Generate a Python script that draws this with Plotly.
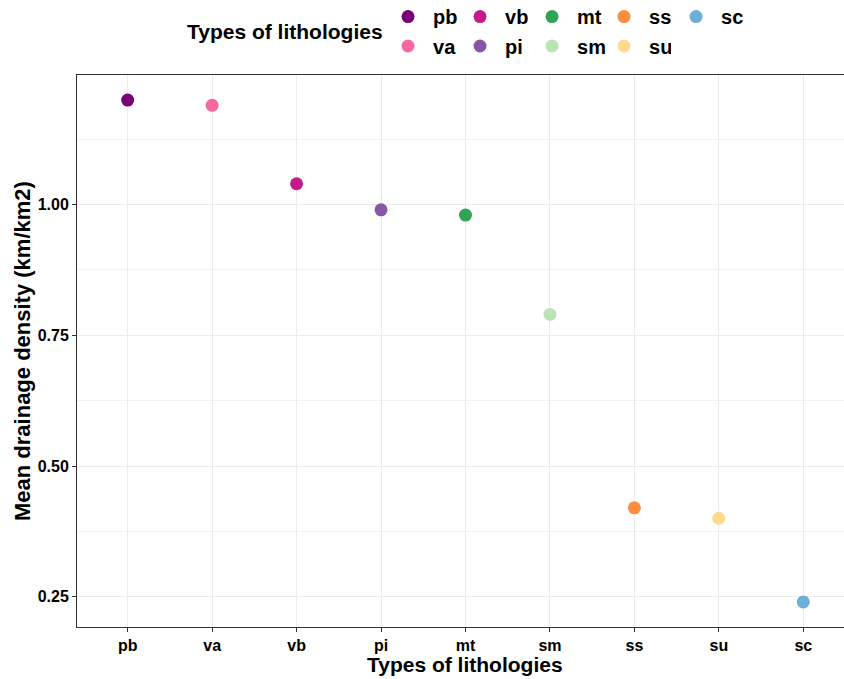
import plotly.graph_objects as go

lithologies = ["pb", "va", "vb", "pi", "mt", "sm", "ss", "su", "sc"]
mean_density = [1.20, 1.19, 1.04, 0.99, 0.98, 0.79, 0.42, 0.40, 0.24]
colors = ["#7A0177", "#F768A1", "#C51B8A", "#8856A7", "#31A354",
          "#BAE4B3", "#FD8D3C", "#FED98E", "#6BAED6"]
# legend is filled column-wise in the reference: row 1 / row 2
legend_row = ["legend", "legend2", "legend", "legend2", "legend",
              "legend2", "legend", "legend2", "legend"]
y_ticks = [0.25, 0.50, 0.75, 1.00]
y_minor = [0.375, 0.625, 0.875, 1.125]

FONT = "Liberation Sans, Arial, sans-serif"

fig = go.Figure()
for i, (name, val, col) in enumerate(zip(lithologies, mean_density, colors)):
    fig.add_trace(go.Scatter(
        x=[i], y=[val], mode="markers", name=name,
        marker=dict(color=col, size=13, line=dict(width=0)),
        legend=legend_row[i],
    ))

leg_common = dict(
    orientation="h", xanchor="left", yanchor="middle",
    font=dict(size=20, family=FONT, color="black", weight="bold"),
    entrywidth=17, itemwidth=40, traceorder="normal",
    bgcolor="rgba(0,0,0,0)", borderwidth=0,
)

fig.update_layout(
    width=844, height=679,
    margin=dict(l=77, r=0, t=75, b=52, autoexpand=False),
    paper_bgcolor="white", plot_bgcolor="white",
    font=dict(family=FONT, color="black", size=16, weight="bold"),
    showlegend=True,
    legend=dict(x=0.399, y=1.1058, **leg_common),
    legend2=dict(x=0.399, y=1.0525, **leg_common),
    xaxis=dict(
        range=[-0.6, 8.482], tickmode="array",
        tickvals=list(range(len(lithologies))), ticktext=lithologies,
        showgrid=True, gridcolor="#EBEBEB", gridwidth=1,
        showline=True, linecolor="#333333", linewidth=1, mirror=True,
        ticks="outside", ticklen=4, tickcolor="#333333",
        tickfont=dict(size=16, weight="bold", color="black"),
        zeroline=False,
    ),
    yaxis=dict(
        range=[0.192, 1.248], tickmode="array",
        tickvals=y_ticks, ticktext=[f"{v:.2f}" for v in y_ticks],
        showgrid=True, gridcolor="#EBEBEB", gridwidth=1,
        minor=dict(tickmode="array", tickvals=y_minor,
                   showgrid=True, gridcolor="#F2F2F2", gridwidth=1, ticklen=0),
        showline=True, linecolor="#333333", linewidth=1, mirror=False,
        ticks="outside", ticklen=4, tickcolor="#333333",
        tickfont=dict(size=16, weight="bold", color="black"),
        zeroline=False,
    ),
    annotations=[
        dict(text="Types of lithologies", xref="paper", yref="paper",
             x=0.4016, y=1.0796, xanchor="right", yanchor="middle",
             showarrow=False, font=dict(size=21, weight="bold", color="black")),
        dict(text="Types of lithologies", xref="paper", yref="paper",
             x=0.506, y=-0.068, xanchor="center", yanchor="middle",
             showarrow=False, font=dict(size=21, weight="bold", color="black")),
        dict(text="Mean drainage density (km/km2)", xref="paper", yref="paper",
             x=-0.0717, y=0.5, xanchor="center", yanchor="middle", textangle=-90,
             showarrow=False, font=dict(size=22, weight="bold", color="black")),
    ],
)

fig.write_html("out.html", config={"displayModeBar": False},
               post_script="document.body.style.margin='0';")
